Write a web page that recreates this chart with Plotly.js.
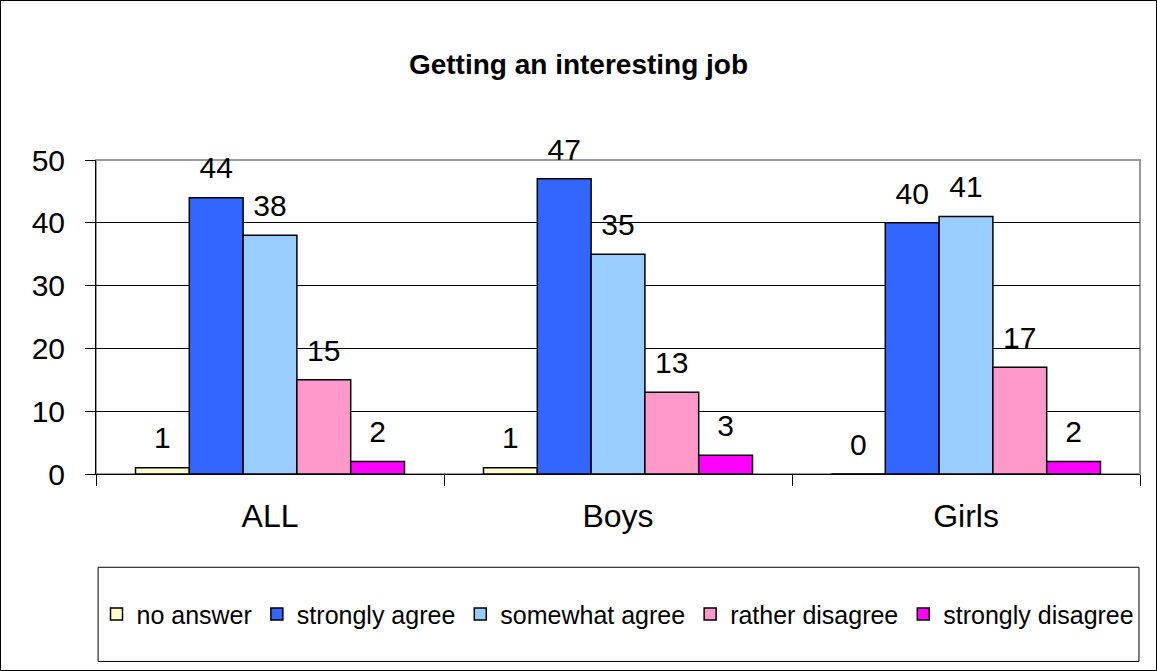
<!DOCTYPE html>
<html><head><meta charset="utf-8">
<script src="https://cdn.plot.ly/plotly-3.0.1.min.js"></script>
<style>
html,body{margin:0;padding:0;background:#fff;}
#chart{width:1155px;height:669px;border:1px solid #000;}
</style></head>
<body><div id="chart"></div>
<script>
const categories = ["ALL", "Boys", "Girls"];
const seriesNames = ["no answer", "strongly agree", "somewhat agree", "rather disagree", "strongly disagree"];
const noAnswer = [1, 1, 0];
const stronglyAgree = [44, 47, 40];
const somewhatAgree = [38, 35, 41];
const ratherDisagree = [15, 13, 17];
const stronglyDisagree = [2, 3, 2];
const colors = ["#FFFFCC", "#3366FF", "#99CCFF", "#FF99CC", "#FF00FF"];
const seriesValues = [noAnswer, stronglyAgree, somewhatAgree, ratherDisagree, stronglyDisagree];

const FONT = "Arial, 'Liberation Sans', sans-serif";
const traces = seriesValues.map((vals, i) => ({
  type: "bar",
  name: seriesNames[i],
  x: categories,
  y: vals,
  texttemplate: "<span style='font-size:30px'>%{y}</span><br>\u00a0",
  textposition: "outside",
  constraintext: "none",
  cliponaxis: false,
  textfont: {family: FONT, size: 11, color: "#000"},
  marker: {color: colors[i], line: {color: "#000", width: 1.5}},
  hoverinfo: "x+y+name"
}));

const layout = {
  width: 1155, height: 669,
  margin: {l: 95, r: 16, t: 159, b: 196},
  paper_bgcolor: "#fff", plot_bgcolor: "#fff",
  font: {family: FONT, color: "#000"},
  title: {text: "<b>Getting an interesting job</b>", font: {family: FONT, size: 28, color: "#000"},
          x: 0.5, xanchor: "center", y: 0.905, yanchor: "middle", yref: "container"},
  barmode: "group",
  bargap: 0.227, bargroupgap: 0,
  showlegend: true,
  legend: {orientation: "h", x: 0.5, xanchor: "center", y: -0.447, yanchor: "middle",
           font: {family: FONT, size: 25, color: "#000"}, bgcolor: "rgba(0,0,0,0)",
           borderwidth: 0, itemwidth: 30, traceorder: "normal"},
  xaxis: {type: "category", showline: true, linecolor: "#000", linewidth: 1,
          ticks: "outside", tickson: "boundaries", ticklen: 11, tickcolor: "#000",
          ticklabelstandoff: 14,
          tickfont: {family: FONT, size: 32, color: "#000"}, showgrid: false, fixedrange: true},
  yaxis: {range: [0, 50], dtick: 10, tick0: 0, showline: true, linecolor: "#000", linewidth: 1,
          ticks: "outside", ticklen: 10, tickcolor: "#000", showgrid: true, gridcolor: "#000", gridwidth: 1,
          zeroline: false, ticklabelstandoff: 14,
          tickfont: {family: FONT, size: 30, color: "#000"}, fixedrange: true},
  shapes: [
    {type: "rect", xref: "paper", yref: "paper", x0: 0, x1: 1, y0: 0, y1: 1,
     line: {color: "#999", width: 2}, layer: "below"},
    {type: "rect", xref: "paper", yref: "paper", x0: 0.002, x1: 0.999, y0: -0.597, y1: -0.297,
     line: {color: "#000", width: 1}, fillcolor: "rgba(0,0,0,0)", layer: "below"}
  ]
};
Plotly.newPlot("chart", traces, layout, {displayModeBar: false});
</script></body></html>
